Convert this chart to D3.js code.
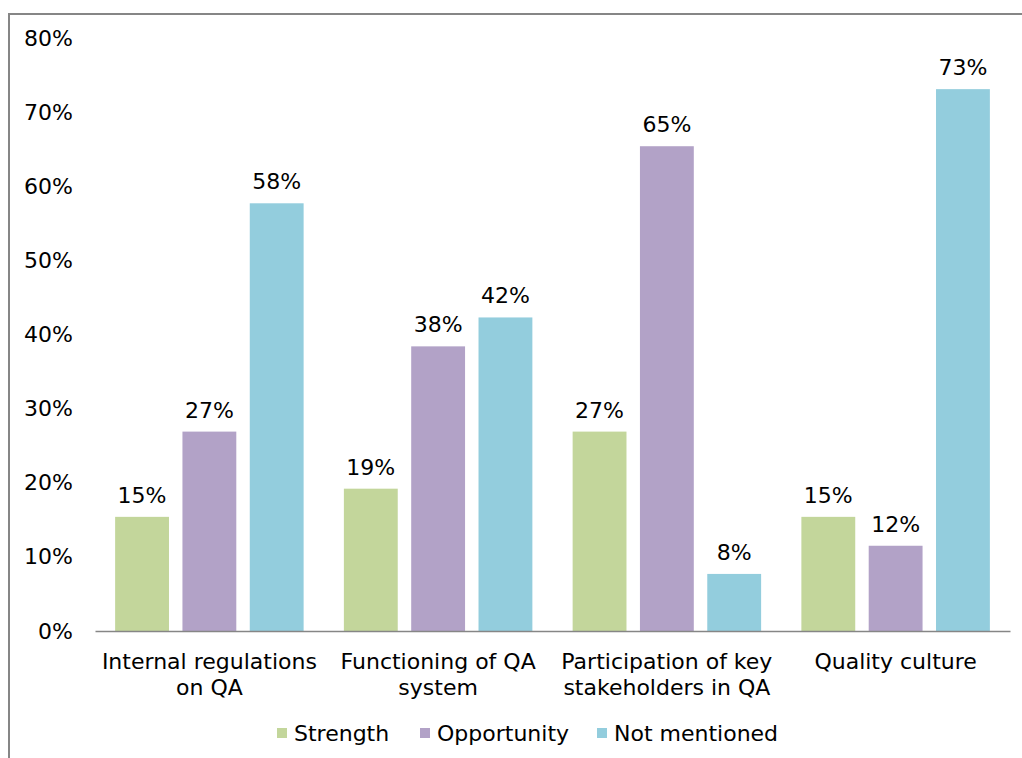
<!DOCTYPE html>
<html><head><meta charset="utf-8">
<script src="https://cdn.jsdelivr.net/npm/d3@7"></script>
<style>body{margin:0;background:#fff}svg{display:block;font-family:"DejaVu Sans",Verdana,sans-serif}</style>
</head><body><svg id="c" width="1022" height="758"></svg>
<script>
const categories = [["Internal regulations","on QA"],["Functioning of QA","system"],["Participation of key","stakeholders in QA"],["Quality culture"]];
const seriesNames = ["Strength","Opportunity","Not mentioned"];
const strength = [15.4, 19.2, 26.9, 15.4];
const opportunity = [26.9, 38.4, 65.4, 11.5];
const notMentioned = [57.7, 42.3, 7.7, 73.1];
const yTicks = [0,10,20,30,40,50,60,70,80];
const colors = ["#c3d69b","#b2a2c7","#93cddd"];

(function(){
const svg = d3.select("#c");
const series = [strength, opportunity, notMentioned];
const mLeft = 95, mRight = 1010, mTop = 38, mBottom = 631;
const fs = 22;

svg.append("rect").attr("x",9).attr("y",14).attr("width",1030).attr("height",760)
  .attr("fill","none").attr("stroke","#868686").attr("stroke-width",2);

const x0 = d3.scaleBand().domain(d3.range(categories.length)).range([mLeft,mRight]).paddingInner(0.176).paddingOuter(0.088);
const x1 = d3.scaleBand().domain(d3.range(series.length)).range([0,x0.bandwidth()]).paddingInner(0.2).paddingOuter(0);
const y = d3.scaleLinear().domain([0,80]).range([mBottom,mTop]);

const yAxis = svg.append("g").attr("transform",`translate(${mLeft},0)`)
  .call(d3.axisLeft(y).tickValues(yTicks).tickFormat(d=>d+"%").tickSize(0).tickPadding(22));
yAxis.select(".domain").remove();
yAxis.selectAll("text").attr("font-size",fs).attr("fill","#000").attr("font-family","DejaVu Sans, Verdana, sans-serif");

series.forEach((vals,si)=>{
  const g = svg.append("g");
  g.selectAll("rect").data(vals).join("rect")
    .attr("x",(d,i)=>x0(i)+x1(si)).attr("width",x1.bandwidth())
    .attr("y",d=>y(d)).attr("height",d=>mBottom-y(d)).attr("fill",colors[si]);
  g.selectAll("text").data(vals).join("text")
    .attr("x",(d,i)=>x0(i)+x1(si)+x1.bandwidth()/2).attr("y",d=>y(d)-14)
    .attr("text-anchor","middle").attr("font-size",fs).attr("fill","#000")
    .text(d=>Math.round(d)+"%");
});

const xAxis = svg.append("g").attr("transform",`translate(0,${mBottom})`)
  .call(d3.axisBottom(x0).tickSize(0).tickFormat(""));
xAxis.select(".domain").attr("stroke","#868686").attr("stroke-width",1.5);

categories.forEach((lines,i)=>{
  const t = svg.append("text").attr("text-anchor","middle").attr("font-size",fs).attr("fill","#000");
  lines.forEach((ln,k)=>{
    t.append("tspan").attr("x",x0(i)+x0.bandwidth()/2).attr("y",mBottom+38+k*26).text(ln);
  });
});

const legX = [277, 420, 597];
seriesNames.forEach((n,i)=>{
  svg.append("rect").attr("x",legX[i]).attr("y",728).attr("width",10).attr("height",10).attr("fill",colors[i]);
  svg.append("text").attr("x",legX[i]+17).attr("y",741).attr("font-size",fs).attr("fill","#000").text(n);
});
})();
</script></body></html>
